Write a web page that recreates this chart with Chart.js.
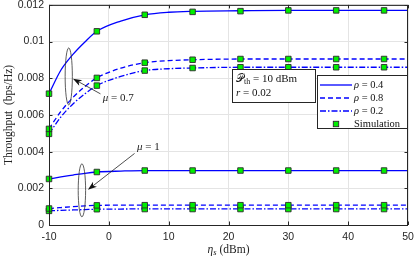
<!DOCTYPE html>
<html lang="en">
<head>
<meta charset="UTF-8" />
<title>Throughput vs eta_s</title>
<script src="https://cdn.jsdelivr.net/npm/chart.js"></script>
<style>
  html, body { margin: 0; padding: 0; background: #fff; }
</style>
</head>
<body>
<canvas id="chart" width="415" height="259"></canvas>
<script>
// analytical curves
const curveEta = [-10, -8, -6, -4, -2, 2, 6, 10, 14, 22, 30, 38, 46, 50];
const mu07Rho04 = [0.00716, 0.00845, 0.0093, 0.00998, 0.01056, 0.01112, 0.01146, 0.0116, 0.01165, 0.01168, 0.0117, 0.0117, 0.0117, 0.0117];
const mu07Rho08 = [0.00524, 0.0062, 0.00695, 0.00755, 0.00802, 0.00855, 0.00885, 0.00896, 0.00901, 0.00905, 0.00905, 0.00905, 0.00905, 0.00905];
const mu07Rho02 = [0.00497, 0.0059, 0.0066, 0.00715, 0.0076, 0.0081, 0.00842, 0.00852, 0.00856, 0.0086, 0.0086, 0.0086, 0.0086, 0.0086];
const mu1Rho04 = [0.00251, 0.00262, 0.00272, 0.00282, 0.00289, 0.00294, 0.00297, 0.00297, 0.00297, 0.00297, 0.00297, 0.00297, 0.00297, 0.00297];
const mu1Rho08 = [0.0009, 0.00095, 0.001, 0.00104, 0.00107, 0.00108, 0.00108, 0.00108, 0.00108, 0.00108, 0.00108, 0.00108, 0.00108, 0.00108];
const mu1Rho02 = [0.00077, 0.0008, 0.00082, 0.00084, 0.00086, 0.00087, 0.00088, 0.00088, 0.00088, 0.00088, 0.00088, 0.00088, 0.00088, 0.00088];

// simulation points
const simEta = [-10, -2, 6, 14, 22, 30, 38, 46];
const simMu07Rho04 = [0.00716, 0.01056, 0.01146, 0.01162, 0.01166, 0.0117, 0.0117, 0.0117];
const simMu07Rho08 = [0.00524, 0.00802, 0.00885, 0.00901, 0.00905, 0.00905, 0.00905, 0.00905];
const simMu07Rho02 = [0.00497, 0.0076, 0.00842, 0.00856, 0.0086, 0.0086, 0.0086, 0.0086];
const simMu1Rho04 = [0.00251, 0.00289, 0.00297, 0.00297, 0.00297, 0.00297, 0.00297, 0.00297];
const simMu1Rho08 = [0.0009, 0.00107, 0.00108, 0.00108, 0.00108, 0.00108, 0.00108, 0.00108];
const simMu1Rho02 = [0.00077, 0.00086, 0.00087, 0.00087, 0.00087, 0.00087, 0.00087, 0.00087];

const xTicks = [-10, 0, 10, 20, 30, 40, 50];
const yTicks = [0, 0.002, 0.004, 0.006, 0.008, 0.01, 0.012];
const legendLabels = ["0.4", "0.8", "0.2"];

const BLUE = "#0000ff";
const SOLID = [];
const DASHED = [5, 3];
const DASHDOT = [6, 2, 1.5, 2];

const pts = (xs, ys) => xs.map((x, i) => ({ x: x, y: ys[i] }));

function curve(ys, dash) {
  return {
    data: pts(curveEta, ys),
    showLine: true,
    borderColor: BLUE,
    borderWidth: 1.3,
    borderDash: dash,
    pointRadius: 0,
    cubicInterpolationMode: "monotone",
    fill: false,
    order: 1,
  };
}

function sim(ys) {
  return {
    data: pts(simEta, ys),
    showLine: false,
    clip: false,
    pointStyle: "rect",
    pointRadius: 3.9,
    backgroundColor: "#00ee00",
    borderColor: "#2b2b2b",
    borderWidth: 0.9,
    order: 0,
  };
}

const SERIF = "'Liberation Serif', 'DejaVu Serif', serif";
const SANS = "'Liberation Sans', Arial, sans-serif";

// draw a run of [text, font, dy] pieces starting at x
function drawRun(ctx, x, y, pieces) {
  pieces.forEach(([txt, font, dy]) => {
    ctx.font = font;
    ctx.fillText(txt, x, y + (dy || 0));
    x += ctx.measureText(txt).width;
  });
  return x;
}

const extras = {
  id: "extras",
  afterDraw(chart) {
    const ctx = chart.ctx;
    const a = chart.chartArea;
    const xs = chart.scales.x, ys = chart.scales.y;
    ctx.save();

    // axes frame with inward ticks
    ctx.strokeStyle = "#262626";
    ctx.lineWidth = 1;
    ctx.strokeRect(a.left + 0.5, a.top + 0.5, a.right - a.left - 1, a.bottom - a.top);
    ctx.beginPath();
    xTicks.forEach(v => {
      const px = Math.round(xs.getPixelForValue(v)) + 0.5;
      ctx.moveTo(px, a.bottom); ctx.lineTo(px, a.bottom - 3.5);
      ctx.moveTo(px, a.top); ctx.lineTo(px, a.top + 3.5);
    });
    yTicks.forEach(v => {
      const py = Math.round(ys.getPixelForValue(v)) + 0.5;
      ctx.moveTo(a.left, py); ctx.lineTo(a.left + 3.5, py);
      ctx.moveTo(a.right, py); ctx.lineTo(a.right - 3.5, py);
    });
    ctx.stroke();

    // ellipses grouping the curves
    ctx.strokeStyle = "#333";
    ctx.lineWidth = 0.8;
    [[-6.7, 0.0081, 3.6, 28.5], [-4.5, 0.00189, 3.7, 26.5]].forEach(([ex, ey, rx, ry]) => {
      ctx.beginPath();
      ctx.ellipse(xs.getPixelForValue(ex), ys.getPixelForValue(ey), rx, ry, 0, 0, Math.PI * 2);
      ctx.stroke();
    });

    // arrows
    function arrow(x0, y0, x1, y1) {
      const p0 = [xs.getPixelForValue(x0), ys.getPixelForValue(y0)];
      const p1 = [xs.getPixelForValue(x1), ys.getPixelForValue(y1)];
      const ang = Math.atan2(p1[1] - p0[1], p1[0] - p0[0]);
      ctx.strokeStyle = "#222";
      ctx.lineWidth = 0.8;
      ctx.beginPath();
      ctx.moveTo(p0[0], p0[1]);
      ctx.lineTo(p1[0] - 6 * Math.cos(ang), p1[1] - 6 * Math.sin(ang));
      ctx.stroke();
      ctx.fillStyle = "#111";
      ctx.beginPath();
      ctx.moveTo(p1[0], p1[1]);
      ctx.lineTo(p1[0] - 9 * Math.cos(ang) + 3.2 * Math.sin(ang), p1[1] - 9 * Math.sin(ang) - 3.2 * Math.cos(ang));
      ctx.lineTo(p1[0] - 6.5 * Math.cos(ang), p1[1] - 6.5 * Math.sin(ang));
      ctx.lineTo(p1[0] - 9 * Math.cos(ang) - 3.2 * Math.sin(ang), p1[1] - 9 * Math.sin(ang) + 3.2 * Math.cos(ang));
      ctx.closePath();
      ctx.fill();
    }
    arrow(-1.4, 0.00715, -6.0, 0.00798);
    arrow(4.3, 0.0039, -3.5, 0.00192);

    ctx.fillStyle = "#222";
    ctx.textBaseline = "middle";
    ctx.textAlign = "left";
    const it = "italic 11px " + SERIF, rm = "11px " + SERIF;
    drawRun(ctx, xs.getPixelForValue(-1.0), ys.getPixelForValue(0.00692), [["\u03bc", it], [" = 0.7", rm]]);
    drawRun(ctx, xs.getPixelForValue(4.7), ys.getPixelForValue(0.00425), [["\u03bc", it], [" = 1", rm]]);

    // parameter box
    ctx.fillStyle = "#fff";
    ctx.fillRect(232, 69, 83, 33);
    ctx.strokeStyle = "#262626";
    ctx.lineWidth = 1;
    ctx.strokeRect(232.5, 69.5, 83, 33);
    ctx.fillStyle = "#111";
    drawRun(ctx, 236, 79, [["\ud835\udcab", "11px " + SERIF], ["th", "8px " + SERIF, 3], [" = 10 dBm", rm]]);
    drawRun(ctx, 236, 93, [["r", it], [" = 0.02", rm]]);

    // legend
    ctx.fillStyle = "#fff";
    ctx.fillRect(317, 75, 90, 53);
    ctx.strokeStyle = "#262626";
    ctx.strokeRect(317.5, 75.5, 90, 53);
    const dashes = [SOLID, DASHED, DASHDOT];
    const lf = "10.5px " + SERIF, lfi = "italic 10.5px " + SERIF;
    legendLabels.forEach((lab, i) => {
      const y = 85 + i * 13;
      ctx.strokeStyle = BLUE;
      ctx.lineWidth = 1.3;
      ctx.setLineDash(dashes[i]);
      ctx.beginPath();
      ctx.moveTo(320, y); ctx.lineTo(352, y);
      ctx.stroke();
      ctx.setLineDash([]);
      ctx.fillStyle = "#111";
      drawRun(ctx, 354, y, [["\u03c1", lfi], [" = " + lab, lf]]);
    });
    ctx.fillStyle = "#00ee00";
    ctx.strokeStyle = "#2b2b2b";
    ctx.lineWidth = 0.9;
    ctx.fillRect(333.3, 121.3, 5.4, 5.4);
    ctx.strokeRect(333.3, 121.3, 5.4, 5.4);
    ctx.fillStyle = "#111";
    drawRun(ctx, 354, 124, [["Simulation", lf]]);

    // axis titles
    ctx.fillStyle = "#222";
    const xl = [["\u03b7", "italic 11.5px " + SERIF], ["s", "italic 8.5px " + SERIF, 3], [" (dBm)", "11.5px " + SERIF]];
    let w = 0;
    xl.forEach(([t, f]) => { ctx.font = f; w += ctx.measureText(t).width; });
    drawRun(ctx, (a.left + a.right) / 2 - w / 2, 250, xl);

    ctx.translate(9, (a.top + a.bottom) / 2);
    ctx.rotate(-Math.PI / 2);
    ctx.textAlign = "center";
    ctx.font = "11.5px " + SERIF;
    ctx.fillText("Throughput  (bps/Hz)", 0, 0);
    ctx.restore();
  },
};

const ctx = document.getElementById("chart").getContext("2d");
new Chart(ctx, {
  type: "scatter",
  data: {
    datasets: [
      sim(simMu07Rho04), sim(simMu07Rho08), sim(simMu07Rho02),
      sim(simMu1Rho04), sim(simMu1Rho08), sim(simMu1Rho02),
      curve(mu07Rho04, SOLID), curve(mu07Rho08, DASHED), curve(mu07Rho02, DASHDOT),
      curve(mu1Rho04, SOLID), curve(mu1Rho08, DASHED), curve(mu1Rho02, DASHDOT),
    ],
  },
  options: {
    responsive: false,
    animation: false,
    layout: { padding: { top: 3, right: 7, left: 0, bottom: 0 } },
    plugins: { legend: { display: false }, tooltip: { enabled: false } },
    scales: {
      x: {
        type: "linear",
        min: -10,
        max: 50,
        afterBuildTicks: s => { s.ticks = xTicks.map(v => ({ value: v })); },
        afterFit: s => { s.height = 34; s.paddingLeft = 0; s.paddingRight = 0; },
        grid: { color: "#e4e4e4", drawTicks: false },
        border: { display: false },
        ticks: { color: "#262626", padding: 6, font: { family: SANS, size: 10.5 } },
      },
      y: {
        type: "linear",
        min: 0,
        max: 0.012,
        afterBuildTicks: s => { s.ticks = yTicks.map(v => ({ value: v })); },
        afterFit: s => { s.width = 49; s.paddingTop = 0; s.paddingBottom = 0; },
        grid: { color: "#e4e4e4", drawTicks: false },
        border: { display: false },
        ticks: {
          color: "#262626",
          padding: 5,
          font: { family: SANS, size: 10.5 },
          callback: v => String(+v.toFixed(3)),
        },
      },
    },
  },
  plugins: [extras],
});
</script>
</body>
</html>
